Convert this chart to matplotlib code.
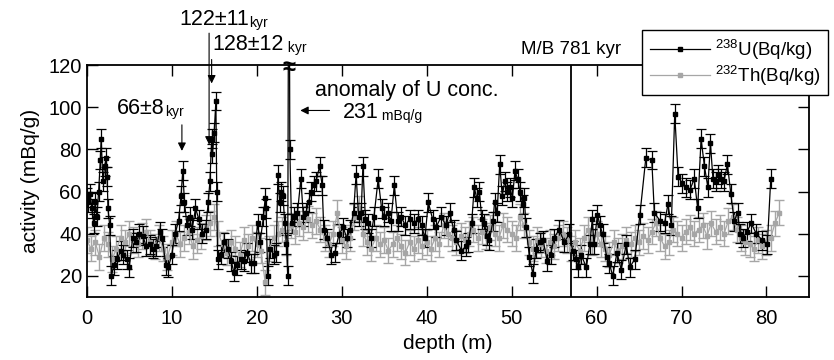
import numpy as np
import matplotlib.pyplot as plt
from matplotlib.lines import Line2D

plt.rcParams['font.family'] = ['Liberation Sans', 'DejaVu Sans']
plt.rcParams['mathtext.default'] = 'regular'

# 238U activity (mBq/g) vs depth (m)
u_depth = [0.0, 0.2, 0.4, 0.6, 0.8, 1.0, 1.2, 1.4, 1.6, 1.7,
           1.9, 2.1, 2.3, 2.4, 2.5, 2.7, 2.9, 3.2, 3.6, 4.0,
           4.3, 4.7, 5.0, 5.4, 5.8, 6.2, 6.6, 7.0, 7.4, 7.8,
           8.2, 8.6, 8.9, 9.3, 9.6, 10.0, 10.4, 10.8, 11.1, 11.3,
           11.5, 11.8, 12.1, 12.4, 12.8, 13.2, 13.6, 14.0, 14.3, 14.5,
           14.7, 14.8, 15.0, 15.2, 15.3, 15.4, 15.8, 16.2, 16.6, 17.0,
           17.3, 17.7, 18.1, 18.5, 18.9, 19.3, 19.7, 20.1, 20.4, 20.8,
           21.0, 21.1, 21.3, 21.6, 22.0, 22.3, 22.5, 22.7, 22.9, 23.1,
           23.3, 23.5, 23.65, 23.8, 23.9, 24.1, 24.4, 24.8, 25.2, 25.5,
           25.8, 26.1, 26.4, 26.7, 27.0, 27.4, 27.7, 27.9, 28.3, 28.8,
           29.2, 29.7, 30.2, 30.6, 31.0, 31.4, 31.7, 32.0, 32.3, 32.5,
           32.8, 33.1, 33.4, 33.8, 34.3, 34.7, 35.0, 35.4, 35.8, 36.2,
           36.6, 37.0, 37.5, 38.0, 38.5, 39.0, 39.4, 39.8, 40.2, 40.7,
           41.1, 41.7, 42.3, 42.7, 43.2, 43.5, 44.1, 44.6, 44.9, 45.3,
           45.6, 45.9, 46.2, 46.5, 46.8, 47.1, 47.4, 47.8, 48.0, 48.3,
           48.6, 48.9, 49.2, 49.5, 49.8, 50.1, 50.4, 50.7, 51.0, 51.3,
           51.5, 51.7, 52.1, 52.5, 52.9, 53.3, 53.7, 54.2, 54.6, 55.0,
           55.6, 56.2, 56.8, 57.2, 57.6, 57.8, 58.2, 58.8, 59.2, 59.5,
           59.7, 60.1, 60.4, 60.7, 61.2, 61.5, 61.9, 62.4, 62.9, 63.5,
           63.9, 64.5, 65.1, 65.8, 66.5, 66.8, 67.5, 68.0, 68.4, 68.8,
           69.2, 69.6, 70.1, 70.5, 71.0, 71.5, 71.9, 72.3, 72.7, 73.1,
           73.4, 73.7, 74.0, 74.3, 74.6, 75.0, 75.4, 75.8, 76.2, 76.6,
           76.9, 77.2, 77.7, 78.2, 78.8, 79.5, 80.1, 80.5]
u_val = [57, 55, 59, 52, 45, 55, 48, 60, 75, 85,
         65, 72, 76, 67, 52, 44, 20, 25, 28, 32,
         30, 28, 24, 38, 36, 40, 39, 34, 35, 33,
         34, 41, 38, 25, 24, 30, 40, 46, 58, 70,
         55, 44, 48, 42, 52, 47, 40, 42, 55, 65,
         85, 78, 88, 103, 60, 28, 30, 36, 33, 27,
         22, 25, 28, 27, 31, 26, 26, 45, 36, 48,
         57, 52, 20, 33, 30, 31, 68, 55, 60, 58,
         45, 35, 20, 231, 80, 45, 48, 50, 66, 48,
         50, 55, 60, 63, 65, 72, 63, 42, 38, 30,
         31, 40, 43, 38, 42, 50, 68, 48, 50, 72,
         47, 45, 38, 48, 66, 52, 48, 50, 46, 63,
         46, 48, 44, 47, 45, 47, 44, 38, 55, 47,
         43, 48, 44, 50, 42, 37, 32, 34, 36, 45,
         62, 57, 60, 47, 45, 39, 37, 46, 55, 50,
         73, 58, 65, 60, 62, 57, 70, 66, 60, 54,
         57, 43, 29, 21, 33, 36, 37, 27, 30, 38,
         42, 36, 40, 32, 28, 24, 30, 24, 35, 47,
         35, 49, 44, 40, 29, 26, 20, 31, 23, 35,
         24, 28, 49, 76, 75, 50, 46, 45, 54, 44,
         97, 67, 64, 62, 61, 66, 52, 85, 72, 62,
         83, 66, 65, 68, 66, 65, 73, 59, 46, 50,
         40, 38, 41, 45, 40, 37, 35, 66]
u_err = 4.5

# 232Th activity (mBq/g) vs depth (m)
th_depth = [0.0, 0.5, 1.0, 1.5, 2.0, 2.5, 3.0, 3.5, 4.0, 4.5,
            5.0, 5.5, 6.0, 6.5, 7.0, 7.5, 8.0, 8.5, 9.0, 9.5,
            10.0, 10.5, 11.0, 11.5, 12.0, 12.5, 13.0, 13.5, 14.0, 14.5,
            15.0, 15.5, 16.0, 16.5, 17.0, 17.5, 18.0, 18.5, 19.0, 19.5,
            20.0, 20.5, 21.0, 21.5, 22.0, 22.5, 23.0, 23.5, 24.0, 24.5,
            25.0, 25.5, 26.0, 26.5, 27.0, 27.5, 28.0, 28.5, 29.0, 29.5,
            30.0, 30.5, 31.0, 31.5, 32.0, 32.5, 33.0, 33.5, 34.0, 34.5,
            35.0, 35.5, 36.0, 36.5, 37.0, 37.5, 38.0, 38.5, 39.0, 39.5,
            40.0, 40.5, 41.0, 41.5, 42.0, 42.5, 43.0, 43.5, 44.0, 44.5,
            45.0, 45.5, 46.0, 46.5, 47.0, 47.5, 48.0, 48.5, 49.0, 49.5,
            50.0, 50.5, 51.0, 51.5, 52.0, 52.5, 53.0, 53.5, 54.0, 54.5,
            55.0, 55.5, 56.0, 56.5, 57.0, 57.5, 58.0, 58.5, 59.0, 59.5,
            60.0, 60.5, 61.0, 61.5, 62.0, 62.5, 63.0, 63.5, 64.0, 64.5,
            65.0, 65.5, 66.0, 66.5, 67.0, 67.5, 68.0, 68.5, 69.0, 69.5,
            70.0, 70.5, 71.0, 71.5, 72.0, 72.5, 73.0, 73.5, 74.0, 74.5,
            75.0, 75.5, 76.0, 76.5, 77.0, 77.5, 78.0, 78.5, 79.0, 79.5,
            80.0, 80.5, 81.0, 81.5]
th_val = [37, 33, 36, 29, 38, 35, 28, 33, 38, 36,
          40, 37, 35, 39, 41, 36, 34, 38, 33, 29,
          36, 40, 35, 38, 41, 34, 37, 39, 43, 45,
          48, 40, 35, 31, 36, 33, 30, 37, 34, 38,
          35, 32, 17, 33, 38, 40, 42, 36, 44, 41,
          45, 43, 47, 44, 46, 42, 38, 35, 40, 50,
          37, 34, 38, 48, 52, 40, 36, 33, 38, 35,
          37, 32, 35, 38, 34, 31, 36, 33, 37, 34,
          36, 33, 38, 35, 44, 40, 38, 36, 39, 37,
          40, 42, 38, 41, 39, 43, 40, 38, 44, 42,
          40, 38, 48, 44, 36, 33, 37, 35, 32, 36,
          34, 38, 40, 37, 33, 36, 32, 38, 42, 36,
          40, 35, 33, 30, 36, 32, 34, 37, 35, 38,
          36, 39, 37, 41, 45, 38, 34, 36, 42, 40,
          38, 41, 43, 40, 42, 44, 39, 45, 41, 43,
          40, 46, 48, 42, 38, 36, 35, 33, 37, 34,
          36, 38, 45, 50]
th_err = 6.0

mb_depth = 57.0        # Matuyama/Brunhes boundary
anomaly_depth = 23.8   # 231 mBq/g spike

grey = '#a6a6a6'

fig = plt.figure(figsize=(8.34, 3.6), dpi=100)
ax = fig.add_axes([0.104, 0.175, 0.866, 0.644])

ax.errorbar(th_depth, th_val, yerr=th_err, fmt='-s', color=grey, ms=3.5,
            lw=0.9, elinewidth=1.0, capsize=3.5, capthick=1.0)
ax.errorbar(u_depth, u_val, yerr=u_err, fmt='-s', color='black', ms=3.5,
            lw=0.9, elinewidth=0.9, capsize=3.5, capthick=0.9)

ax.axvline(mb_depth, color='black', lw=1.3)

ax.set_xlim(0, 85)
ax.set_ylim(10, 120)
ax.set_xticks(range(0, 81, 10))
ax.set_yticks(range(20, 121, 20))
ax.tick_params(direction='in', top=True, right=True, length=8, width=1,
               labelsize=14.5)
ax.tick_params(axis='x', pad=9)
for s in ax.spines.values():
    s.set_linewidth(1.3)

ax.set_xlabel('depth (m)', fontsize=15, labelpad=4)
ax.set_ylabel('activity (mBq/g)', fontsize=15, labelpad=6)

# annotations
arrow = dict(arrowstyle='-|>', color='black', lw=0.8, mutation_scale=12)

t = ax.text(10.9, 139, '122\u00b111', fontsize=15.5)
ax.annotate('kyr', xy=(1, 0), xycoords=t, va='bottom', fontsize=10)
ax.annotate('', xy=(14.4, 81), xytext=(14.4, 136.5), arrowprops=arrow,
            annotation_clip=False)

t = ax.text(14.8, 127, '128\u00b112', fontsize=15.5)
ax.annotate(' kyr', xy=(1, 0), xycoords=t, va='bottom', fontsize=10)
ax.annotate('', xy=(14.7, 110), xytext=(14.7, 124), arrowprops=arrow,
            annotation_clip=False)

t = ax.text(3.6, 96.8, '66\u00b18', fontsize=15.5)
ax.annotate('kyr', xy=(1, 0), xycoords=t, va='bottom', fontsize=10)
ax.annotate('', xy=(11.2, 78), xytext=(11.2, 93), arrowprops=arrow)

ax.text(26.9, 105.5, 'anomaly of U conc.', fontsize=15.5)
t = ax.text(30.1, 94.8, '231', fontsize=15.5)
ax.annotate(' mBq/g', xy=(1, 0), xycoords=t, va='bottom', fontsize=10)
ax.annotate('', xy=(24.8, 98.5), xytext=(28.9, 98.5), arrowprops=arrow)

ax.text(anomaly_depth, 119, '\u2248', fontsize=17, fontweight='bold',
        ha='center', va='center')

ax.text(mb_depth, 125.2, 'M/B 781 kyr', fontsize=13.5, ha='center')

handles = [Line2D([], [], color='black', marker='s', ms=3.5, lw=0.9),
           Line2D([], [], color=grey, marker='s', ms=3.5, lw=0.9)]
leg = fig.legend(handles, [r'$^{238}$U(Bq/kg)', r'$^{232}$Th(Bq/kg)'],
                 loc='upper left', bbox_to_anchor=(642 / 834, 1 - 30 / 360),
                 borderaxespad=0, fontsize=13.5, handlelength=3.2,
                 handletextpad=0.3, labelspacing=0.1, borderpad=0.4,
                 fancybox=False, framealpha=1, edgecolor='black')
leg.get_frame().set_linewidth(1.0)

fig.savefig('out.png', dpi=100)
